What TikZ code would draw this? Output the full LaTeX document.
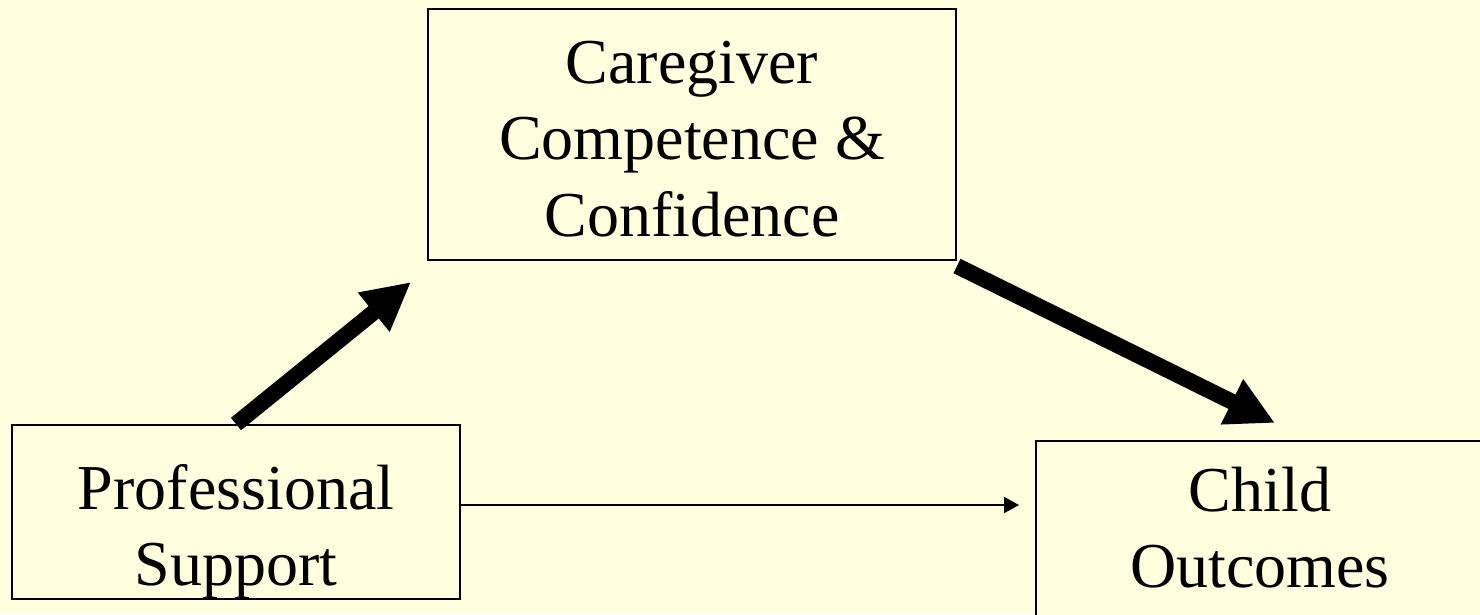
\documentclass[tikz,border=0pt]{standalone}
\usepackage{fontspec}
\setmainfont{Liberation Serif}
\usetikzlibrary{arrows.meta}
\definecolor{bgyellow}{HTML}{FFFFE0}
\newcommand{\topstrut}[1]{\rule{0pt}{#1}}
\newcommand{\botstrut}[1]{\rule[-#1]{0pt}{#1}}
\begin{document}
\begin{tikzpicture}[x=1pt,y=-1pt,
  box/.style={draw=black, line width=2pt, fill=bgyellow, align=center,
    font=\fontsize{64pt}{76.5pt}\selectfont, inner sep=0pt},
  bigarrow/.style={line width=16pt, -{Triangle[length=48pt,width=47pt]}},
  smallarrow/.style={line width=2pt, -{Triangle[length=15pt,width=16pt]}}]
  \useasboundingbox (0,0) rectangle (1480,614);
  \clip (0,0) rectangle (1480,614);
  \fill[bgyellow] (0,0) rectangle (1480,614);
  \node[box, minimum width=528pt, minimum height=251pt] (care) at (692,134.5)
    {\topstrut{70.6pt}Caregiver\\Competence \&\\\smash{Confidence}\botstrut{20pt}};
  \node[box, minimum width=448pt, minimum height=174pt] (prof) at (236,512)
    {\topstrut{84pt}Professional\\\smash{Support}\botstrut{13.5pt}};
  \node[box, minimum width=448pt, minimum height=180pt] (child) at (1260,531)
    {\topstrut{70pt}Child\\\smash{Outcomes}\botstrut{33.5pt}};
  \draw[bigarrow] (prof.north) -- ([xshift=-16pt,yshift=-21pt]care.south west);
  \draw[bigarrow] ([yshift=-5pt]care.south east) -- ([xshift=15pt,yshift=17pt]child.north);
  \draw[smallarrow, shorten >=16pt] ([yshift=7pt]prof.east) -- ([yshift=7pt]prof.east -| child.west);
\end{tikzpicture}
\end{document}
